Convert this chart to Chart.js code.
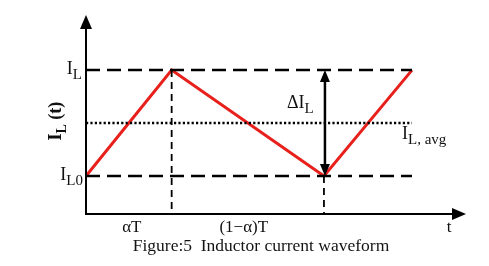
<!DOCTYPE html>
<html>
<head>
<meta charset="utf-8">
<script src="https://cdn.jsdelivr.net/npm/chart.js@4.4.0/dist/chart.umd.min.js"></script>
<style>
  html, body { margin: 0; padding: 0; background: #fff; }
  #wrap { width: 489px; height: 266px; }
</style>
</head>
<body>
<div id="wrap"><canvas id="waveChart" width="489" height="266"></canvas></div>
<script>
// tiempos (en unidades de T) y niveles de corriente (IL0 = 0, IL = 1)
const tiempos = [0, 0.36, 1, 1.37];
const corriente = [0, 1, 0, 1];
const nivelAlto = 1;
const nivelBajo = 0;
const nivelMedio = 0.5;
const etiquetasTiempo = ["αT", "(1−α)T"];
const titulo = "Figure:5  Inductor current waveform";

const X_MIN = 0, X_MAX = 1.597, Y_MIN = -0.358, Y_MAX = 1.52;
const SERIF = "'Liberation Serif', 'Times New Roman', serif";

function linea(xs, ys, estilo) {
  return Object.assign({
    data: xs.map((x, i) => ({ x: x, y: ys[i] })),
    showLine: true, pointRadius: 0, borderColor: "#000", borderWidth: 2.5, clip: false,
  }, estilo);
}

// texto con subindice
function textoSub(ctx, base, sub, x, y, size, align) {
  const subSize = Math.round(size * 0.82);
  ctx.font = size + "px " + SERIF;
  const wb = ctx.measureText(base).width;
  ctx.font = subSize + "px " + SERIF;
  const ws = ctx.measureText(sub).width;
  let x0 = x;
  if (align === "right") x0 = x - wb - ws;
  if (align === "center") x0 = x - (wb + ws) / 2;
  ctx.textAlign = "left";
  ctx.textBaseline = "alphabetic";
  ctx.font = size + "px " + SERIF;
  ctx.fillText(base, x0, y);
  ctx.font = subSize + "px " + SERIF;
  ctx.fillText(sub, x0 + wb, y + size * 0.28);
}

function flecha(ctx, x, y, dir, largo, ancho) {
  ctx.beginPath();
  if (dir === "up") { ctx.moveTo(x, y); ctx.lineTo(x - ancho, y + largo); ctx.lineTo(x + ancho, y + largo); }
  if (dir === "down") { ctx.moveTo(x, y); ctx.lineTo(x - ancho, y - largo); ctx.lineTo(x + ancho, y - largo); }
  if (dir === "right") { ctx.moveTo(x, y); ctx.lineTo(x - largo, y - ancho); ctx.lineTo(x - largo, y + ancho); }
  ctx.closePath();
  ctx.fill();
}

const decoracion = {
  id: "decoracion",
  afterDatasetsDraw(chart) {
    const ctx = chart.ctx;
    const xs = chart.scales.x, ys = chart.scales.y;
    const a = chart.chartArea;
    ctx.save();
    ctx.fillStyle = "#000";
    ctx.strokeStyle = "#000";
    ctx.setLineDash([]);
    // ejes
    ctx.lineWidth = 2;
    ctx.beginPath();
    ctx.moveTo(a.left, a.top + 12);
    ctx.lineTo(a.left, a.bottom);
    ctx.lineTo(a.right - 12, a.bottom);
    ctx.stroke();
    flecha(ctx, a.left, a.top, "up", 14, 6);
    flecha(ctx, a.right, a.bottom, "right", 14, 6);

    // flecha doble ΔIL
    const xa = xs.getPixelForValue(tiempos[2]) + 1;
    const yTop = ys.getPixelForValue(nivelAlto), yBot = ys.getPixelForValue(nivelBajo);
    ctx.lineWidth = 2.5;
    ctx.beginPath();
    ctx.moveTo(xa, yTop + 10);
    ctx.lineTo(xa, yBot - 10);
    ctx.stroke();
    flecha(ctx, xa, yTop, "up", 12, 5);
    flecha(ctx, xa, yBot, "down", 12, 5);

    // textos
    ctx.fillStyle = "#111";
    textoSub(ctx, "I", "L", a.left - 4, yTop + 4, 18, "right");
    textoSub(ctx, "I", "L0", a.left - 3, yBot + 4, 18, "right");
    textoSub(ctx, "ΔI", "L", xa - 38, ys.getPixelForValue(0.67) + 3, 18, "left");
    textoSub(ctx, "I", "L, avg", xs.getPixelForValue(tiempos[3]) - 10, ys.getPixelForValue(nivelMedio) + 16, 18, "left");

    // etiqueta eje y rotada
    ctx.save();
    ctx.translate(a.left - 25, ys.getPixelForValue(nivelMedio) - 2);
    ctx.rotate(-Math.PI / 2);
    ctx.font = "bold 18px " + SERIF;
    const w1 = ctx.measureText("I").width;
    ctx.font = "bold 14px " + SERIF;
    const w2 = ctx.measureText("L").width;
    ctx.font = "bold 18px " + SERIF;
    const w3 = ctx.measureText(" (t)").width;
    let x0 = -(w1 + w2 + w3) / 2;
    ctx.textAlign = "left";
    ctx.fillText("I", x0, 0);
    ctx.font = "bold 14px " + SERIF;
    ctx.fillText("L", x0 + w1, 5);
    ctx.font = "bold 18px " + SERIF;
    ctx.fillText(" (t)", x0 + w1 + w2, 0);
    ctx.restore();

    // etiquetas de tiempo centradas en cada intervalo
    ctx.font = "17px " + SERIF;
    ctx.textAlign = "center";
    ctx.textBaseline = "alphabetic";
    etiquetasTiempo.forEach((t, i) => {
      const xm = (xs.getPixelForValue(tiempos[i]) + xs.getPixelForValue(tiempos[i + 1])) / 2;
      ctx.fillText(t, xm + 3 - i * 7, a.bottom + 18);
    });
    ctx.fillText("t", a.right - 17, a.bottom + 18);

    // titulo
    ctx.fillStyle = "#141414";
    ctx.font = "17.5px " + SERIF;
    ctx.fillText(titulo, 261, a.bottom + 37);
    ctx.restore();
  }
};

const ctx = document.getElementById("waveChart").getContext("2d");
new Chart(ctx, {
  type: "scatter",
  data: {
    datasets: [
      linea([tiempos[0], tiempos[3]], [nivelAlto, nivelAlto], { borderDash: [14, 7] }),
      linea([tiempos[0], tiempos[3]], [nivelBajo, nivelBajo], { borderDash: [14, 7] }),
      linea([tiempos[0], tiempos[3]], [nivelMedio, nivelMedio], { borderDash: [2.2, 2.2], borderWidth: 2.5 }),
      linea([tiempos[1], tiempos[1]], [nivelAlto, Y_MIN], { borderDash: [7, 5], borderWidth: 1.8 }),
      linea([tiempos[2], tiempos[2]], [nivelBajo, Y_MIN], { borderDash: [7, 5], borderWidth: 1.8 }),
      linea(tiempos, corriente, { borderColor: "#e8201c", borderWidth: 3 }),
    ],
  },
  options: {
    responsive: false,
    animation: false,
    devicePixelRatio: 1,
    layout: { padding: { left: 86, right: 23, top: 15, bottom: 52 } },
    plugins: { legend: { display: false }, tooltip: { enabled: false } },
    scales: {
      x: { type: "linear", min: X_MIN, max: X_MAX, display: false },
      y: { type: "linear", min: Y_MIN, max: Y_MAX, display: false },
    },
  },
  plugins: [decoracion],
});
</script>
</body>
</html>
